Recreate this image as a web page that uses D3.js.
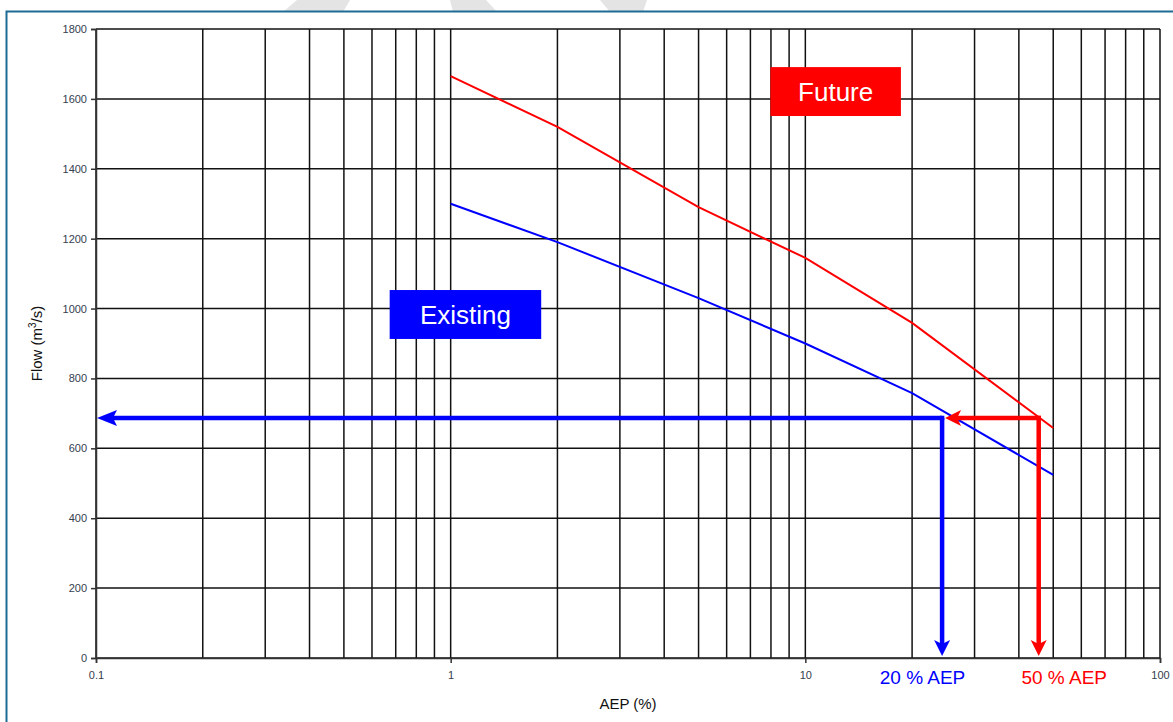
<!DOCTYPE html>
<html>
<head>
<meta charset="utf-8">
<script src="https://cdn.jsdelivr.net/npm/d3@7"></script>
<style>
  html, body { margin: 0; padding: 0; background: #fff; }
  svg { display: block; font-family: "Liberation Sans", Arial, sans-serif; }
</style>
</head>
<body>
<svg id="chart" width="1173" height="722"></svg>
<script>
// ---- data ----
const aep = [1, 2, 5, 10, 20, 50];                       // AEP (%)
const existingFlow = [1300, 1190, 1030, 900, 758, 524];  // m3/s
const futureFlow = [1665, 1520, 1290, 1145, 959, 658];   // m3/s
const xTickLabels = [0.1, 1, 10, 100];
const yTickValues = [0, 200, 400, 600, 800, 1000, 1200, 1400, 1600, 1800];
const designFlow = 687;          // horizontal arrow level
const existingDesignAEP = 24.3;  // blue vertical arrow
const futureDesignAEP = 45.5;    // red vertical arrow
const arrowLeftAEP = 0.1;
const boxExisting = { x0: 0.673, x1: 1.80, y0: 913, y1: 1053, text: "Existing" };
const boxFuture = { x0: 7.97, x1: 18.6, y0: 1551, y1: 1691, text: "Future" };
const aepLabels = [
  { aep: 21.4, text: "20 % AEP", color: "#0000ff" },
  { aep: 53.7, text: "50 % AEP", color: "#ff0000" }
];

// ---- layout ----
const svg = d3.select("#chart");
const W = 1173, H = 722;
const m = { left: 96, top: 29, right: 13, bottom: 64 };
const x = d3.scaleLog().domain([0.1, 100]).range([m.left, W - m.right]);
const y = d3.scaleLinear().domain([0, 1800]).range([H - m.bottom, m.top]);
const BLUE = "#0000ff", RED = "#ff0000";

// watermark fragments (light grey) above frame
const wm = [
  [[283, 12], [343, 12], [350, 0], [297, 0]],
  [[453, 12], [497, 12], [486, 0], [450, 0]],
  [[610, 12], [643, 12], [647, 0], [600, 0]]
];
svg.selectAll("polygon.wm").data(wm).join("polygon")
  .attr("points", d => d.map(p => p.join(",")).join(" "))
  .attr("fill", "#e4e4e4");

// frame
svg.append("rect").attr("x", 6.5).attr("y", 11.5).attr("width", W).attr("height", H)
  .attr("fill", "#fff").attr("stroke", "#1e6b96").attr("stroke-width", 2);

// grid
const xGrid = [];
for (let d = 0.1; d < 100; d *= 10) for (let k = 1; k <= 9; k++) xGrid.push(+(d * k).toPrecision(3));
xGrid.push(100);
const g = svg.append("g");
g.selectAll("line.vg").data(xGrid).join("line")
  .attr("x1", d => x(d)).attr("x2", d => x(d))
  .attr("y1", y(0)).attr("y2", y(1800))
  .attr("stroke", "#111").attr("stroke-width", 1.5);
g.selectAll("line.hg").data(yTickValues).join("line")
  .attr("x1", x(0.1)).attr("x2", x(100))
  .attr("y1", d => y(d)).attr("y2", d => y(d))
  .attr("stroke", "#111").attr("stroke-width", 1.5);

// axes
const yAxis = d3.axisLeft(y).tickValues(yTickValues).tickSize(5).tickFormat(d3.format("d"));
const ya = svg.append("g").attr("transform", `translate(${m.left},0)`).call(yAxis);
ya.select(".domain").attr("stroke", "#333").attr("stroke-width", 1.5);
ya.selectAll(".tick line").attr("stroke", "#333").attr("stroke-width", 1.5);
ya.selectAll("text").attr("fill", "#34404e").attr("font-size", 11).attr("dx", -1);

const xAxis = d3.axisBottom(x).tickValues(xTickLabels).tickSize(5).tickFormat(d => String(d));
const xa = svg.append("g").attr("transform", `translate(0,${y(0)})`).call(xAxis);
xa.select(".domain").attr("stroke", "#333").attr("stroke-width", 1.5);
xa.selectAll(".tick line").attr("stroke", "#333").attr("stroke-width", 1.5);
xa.selectAll("text").attr("fill", "#34404e").attr("font-size", 11).attr("dy", "1.2em");

// axis titles
svg.append("text").attr("x", (x(0.1) + x(100)) / 2).attr("y", 709)
  .attr("text-anchor", "middle").attr("font-size", 15).attr("fill", "#111").text("AEP (%)");
const yt = svg.append("text").attr("transform", `translate(42,${(y(0) + y(1800)) / 2}) rotate(-90)`)
  .attr("text-anchor", "middle").attr("font-size", 15).attr("fill", "#111");
yt.append("tspan").text("Flow (m");
yt.append("tspan").attr("font-size", 10).attr("dy", -6).text("3");
yt.append("tspan").attr("dy", 6).text("/s)");

// curves
const line = d3.line().x(d => x(d[0])).y(d => y(d[1]));
svg.append("path").datum(aep.map((a, i) => [a, existingFlow[i]]))
  .attr("d", line).attr("fill", "none").attr("stroke", BLUE).attr("stroke-width", 2);
svg.append("path").datum(aep.map((a, i) => [a, futureFlow[i]]))
  .attr("d", line).attr("fill", "none").attr("stroke", RED).attr("stroke-width", 2);

// arrows
function arrow(x1, y1, x2, y2, color, headLen = 16, headW = 8) {
  const dx = x2 - x1, dy = y2 - y1, L = Math.hypot(dx, dy);
  const ux = dx / L, uy = dy / L;
  const bx = x2 - ux * headLen, by = y2 - uy * headLen;
  svg.append("line").attr("x1", x1).attr("y1", y1).attr("x2", bx + ux * 5).attr("y2", by + uy * 5)
    .attr("stroke", color).attr("stroke-width", 4.5);
  svg.append("polygon")
    .attr("points", [[x2, y2], [bx - uy * headW, by + ux * headW], [bx + ux * 4, by + uy * 4], [bx + uy * headW, by - ux * headW]]
      .map(p => p.join(",")).join(" "))
    .attr("fill", color);
}
const yD = y(designFlow);
svg.append("line").attr("x1", x(existingDesignAEP)).attr("x2", x(existingDesignAEP))
  .attr("y1", yD - 2.2).attr("y2", yD + 2.2).attr("stroke", BLUE).attr("stroke-width", 4.5);
arrow(x(existingDesignAEP), yD, x(arrowLeftAEP) + 1, yD, BLUE, 20, 8);
arrow(x(existingDesignAEP), yD, x(existingDesignAEP), y(0) - 2, BLUE);
arrow(x(futureDesignAEP) + 2, yD, x(existingDesignAEP) + 3, yD, RED);
arrow(x(futureDesignAEP), yD - 2.2, x(futureDesignAEP), y(0) - 2, RED);

// labelled boxes
[[boxExisting, BLUE], [boxFuture, RED]].forEach(([b, c]) => {
  svg.append("rect").attr("x", x(b.x0)).attr("y", y(b.y1))
    .attr("width", x(b.x1) - x(b.x0)).attr("height", y(b.y0) - y(b.y1)).attr("fill", c);
  svg.append("text").attr("x", (x(b.x0) + x(b.x1)) / 2).attr("y", (y(b.y0) + y(b.y1)) / 2)
    .attr("dy", "0.36em").attr("text-anchor", "middle").attr("font-size", 26)
    .attr("fill", "#fff").text(b.text);
});

// AEP labels under axis
svg.selectAll("text.aepl").data(aepLabels).join("text")
  .attr("x", d => x(d.aep)).attr("y", 684).attr("text-anchor", "middle")
  .attr("font-size", 19).attr("fill", d => d.color).text(d => d.text);
</script>
</body>
</html>
